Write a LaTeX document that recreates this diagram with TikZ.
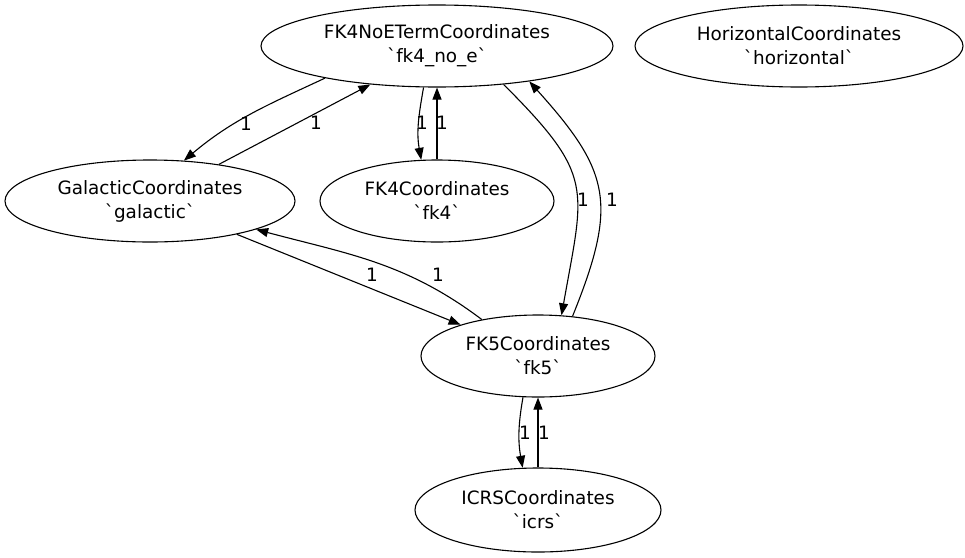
\documentclass[tikz,border=0pt]{standalone}
\usepackage{fontspec}
\newfontfamily\graphfont{DejaVu Sans}
\usetikzlibrary{
    arrows.meta,
    shapes.geometric
}
\tikzset{
    frame/.style={ellipse, draw, line width=1.1pt, inner sep=0pt, align=center,
        font=\graphfont\fontsize{18.4}{24}\selectfont},
    transform/.style={-{Triangle[length=12pt, width=9pt]}, line width=1.1pt},
    weight/.style={font=\graphfont\fontsize{18.4}{22}\selectfont, inner sep=0pt}
}

\begin{document}
\begin{tikzpicture}[x=1pt, y=-1pt]
    \useasboundingbox (0,0) rectangle (965,557);
    % frames
    \node[frame, minimum width=352, minimum height=82] (fknoe) at (437,46)
        {FK4NoETermCoordinates\\`fk4\_no\_e`};
    \node[frame, minimum width=328, minimum height=82] (horizontal) at (799,46)
        {HorizontalCoordinates\\`horizontal`};
    \node[frame, minimum width=290, minimum height=82] (galactic) at (150,201)
        {GalacticCoordinates\\`galactic`};
    \node[frame, minimum width=234, minimum height=82] (fkfour) at (437,201)
        {FK4Coordinates\\`fk4`};
    \node[frame, minimum width=234, minimum height=82] (fkfive) at (538,356)
        {FK5Coordinates\\`fk5`};
    \node[frame, minimum width=246, minimum height=84] (icrs) at (538,510)
        {ICRSCoordinates\\`icrs`};
    % transformations
    \draw[transform] (fknoe.196) to[out=205, in=40] (galactic.50);
    \draw[transform] (galactic.28) -- (fknoe.210);
    \draw[transform] (fknoe.252) to[out=260, in=100] (fkfour.111);
    \draw[transform] (fkfour.north) -- (fknoe.south);
    \draw[transform] (fknoe.330) to[out=315, in=80, looseness=1.4] (fkfive.60);
    \draw[transform] (fkfive.49) to[out=68, in=312, looseness=1.3] (fknoe.339);
    \draw[transform] (galactic.339) -- (fkfive.158);
    \draw[transform] (fkfive.147) to[out=143, in=345] (galactic.345);
    \draw[transform] (fkfive.250) to[out=260, in=100] (icrs.110);
    \draw[transform] (icrs.north) -- (fkfive.south);
    % priorities
    \node[weight] (w1) at (246,124) {1};
    \node[weight] (w2) at (316,123) {1};
    \node[weight] (w3) at (422,123) {1};
    \node[weight] (w4) at (442,123) {1};
    \node[weight] (w5) at (583,200) {1};
    \node[weight] (w6) at (612,200) {1};
    \node[weight] (w7) at (372,275) {1};
    \node[weight] (w8) at (438,275) {1};
    \node[weight] (w9) at (525,433) {1};
    \node[weight] (w10) at (544,433) {1};
\end{tikzpicture}
\end{document}
